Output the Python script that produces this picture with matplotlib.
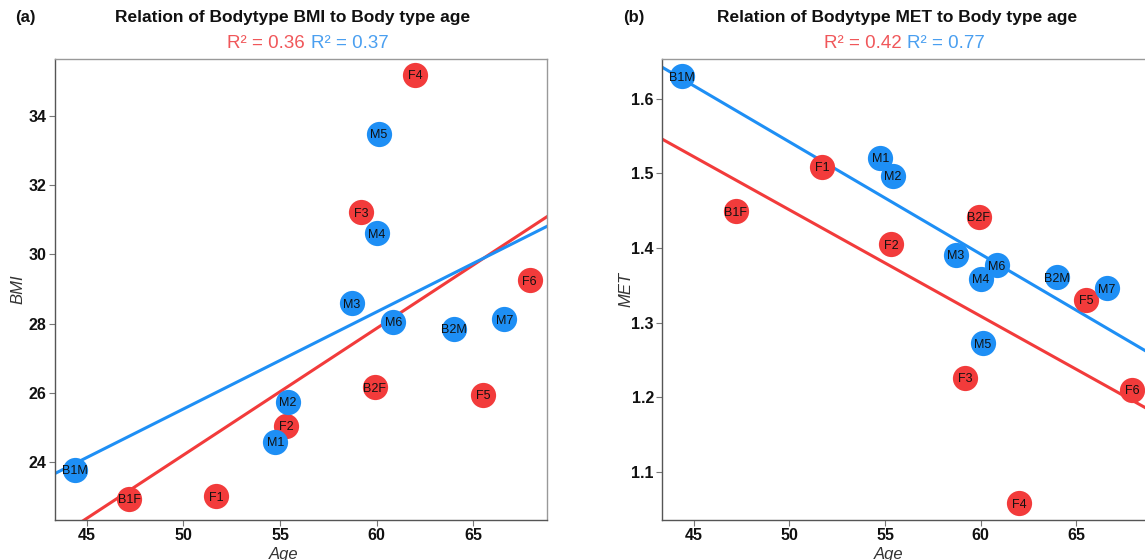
import numpy as np
import matplotlib
matplotlib.use('Agg')
import matplotlib.pyplot as plt

# body type groups
fem_labels = ['B1F', 'F1', 'F2', 'B2F', 'F3', 'F4', 'F5', 'F6']
fem_age = [47.2, 51.7, 55.3, 59.9, 59.2, 62.0, 65.5, 67.9]
fem_bmi = [22.94, 23.01, 25.05, 26.16, 31.22, 35.20, 25.94, 29.25]
fem_met = [1.449, 1.509, 1.405, 1.442, 1.226, 1.058, 1.331, 1.210]

male_labels = ['B1M', 'M1', 'M2', 'M3', 'M4', 'M5', 'M6', 'M7', 'B2M']
male_age = [44.4, 54.75, 55.4, 58.7, 60.0, 60.1, 60.85, 66.6, 64.0]
male_bmi = [23.77, 24.59, 25.73, 28.59, 30.61, 33.48, 28.05, 28.12, 27.84]
male_met = [1.630, 1.521, 1.4965, 1.391, 1.359, 1.2725, 1.377, 1.346, 1.361]

r2_bmi = ['0.36', '0.37']
r2_met = ['0.42', '0.77']

RED = '#F23B3B'
BLUE = '#1E8FF5'
RED_T = '#F0575A'
BLUE_T = '#4A9FF0'

plt.rcParams['font.family'] = ['Liberation Sans', 'DejaVu Sans']
narrow = ['Liberation Sans Narrow', 'Liberation Sans']

fig = plt.figure(figsize=(11.45, 5.6), dpi=100)
axA = fig.add_axes([0.048, 0.0714, 0.4297, 0.8227])
axB = fig.add_axes([0.5784, 0.0714, 0.4253, 0.8227])


def panel(ax, yf, ym, ylab, ylim, yticks, yfmt, title, r2, tag, split):
    xlim = (43.36, 68.8)
    xs = np.array(xlim)
    for age, yv, col in [(fem_age, yf, RED), (male_age, ym, BLUE)]:
        b, a = np.polyfit(age, yv, 1)
        ax.plot(xs, a + b * xs, color=col, lw=2.2, zorder=2)
    ax.scatter(fem_age, yf, s=330, color=RED, zorder=3, linewidths=0)
    ax.scatter(male_age, ym, s=330, color=BLUE, zorder=3, linewidths=0)
    for lab, x, y in zip(fem_labels + male_labels, fem_age + male_age, list(yf) + list(ym)):
        ax.annotate(lab, (x, y), xytext=(0, -1), textcoords='offset points',
                    ha='center', va='center', fontsize=9, color='#111111', zorder=4)
    ax.set_xlim(*xlim)
    ax.set_ylim(*ylim)
    ax.set_xticks([45, 50, 55, 60, 65])
    ax.set_yticks(yticks)
    ax.set_yticklabels([yfmt.format(v) for v in yticks])
    for s in ['left', 'bottom']:
        ax.spines[s].set_color('#555555')
    for s in ['top', 'right']:
        ax.spines[s].set_color('#999999')
    for s in ax.spines.values():
        s.set_linewidth(1.0)
    ax.tick_params(direction='out', length=4, width=0.8, color='#777777', pad=2)
    for t in ax.get_xticklabels() + ax.get_yticklabels():
        t.set_family(narrow)
        t.set_fontweight('bold')
        t.set_fontsize(11.5)
        t.set_color('#111111')
    ax.set_xlabel('Age', fontsize=12, style='italic', color='#333333')
    ax.xaxis.set_label_coords(0.465, -0.058)
    ax.set_ylabel(ylab, fontsize=12, style='italic', color='#333333')
    ax.yaxis.set_label_coords(-0.06, 0.5)
    ax.text(0.482, 1.09, title, transform=ax.transAxes, ha='center', va='center',
            fontsize=12.5, fontweight='bold', color='#111111')
    ax.text(split - 0.006, 1.035, 'R\u00b2 = ' + r2[0], transform=ax.transAxes,
            ha='right', va='center', fontsize=13.5, color=RED_T)
    ax.text(split + 0.006, 1.035, 'R\u00b2 = ' + r2[1], transform=ax.transAxes,
            ha='left', va='center', fontsize=13.5, color=BLUE_T)
    ax.text(-0.08, 1.09, tag, transform=ax.transAxes, ha='left', va='center',
            fontsize=12, fontweight='bold', color='#111111')


panel(axA, fem_bmi, male_bmi, 'BMI', (22.32, 35.64), [24, 26, 28, 30, 32, 34], '{:d}',
      'Relation of Bodytype BMI to Body type age', r2_bmi, '(a)', 0.514)
panel(axB, fem_met, male_met, 'MET', (1.0357, 1.6527), [1.1, 1.2, 1.3, 1.4, 1.5, 1.6], '{:.1f}',
      'Relation of Bodytype MET to Body type age', r2_met, '(b)', 0.497)

fig.savefig('out.png', dpi=100)
